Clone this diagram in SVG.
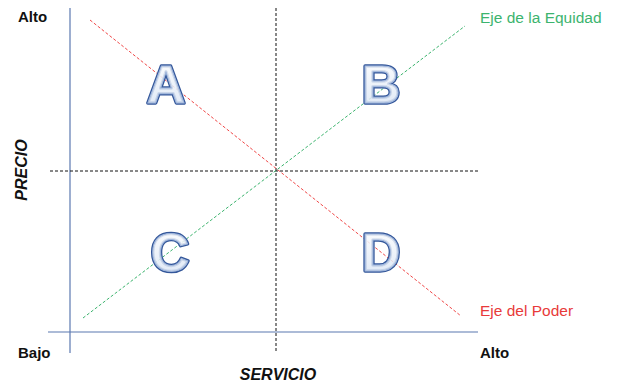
<svg xmlns="http://www.w3.org/2000/svg" width="619" height="385" viewBox="0 0 619 385">
<defs>
<linearGradient id="lg" x1="0" y1="0" x2="0" y2="1">
<stop offset="0" stop-color="#ffffff"/>
<stop offset="1" stop-color="#d6e2f3"/>
</linearGradient>
</defs>
<style>
.lbl{font-family:"Liberation Sans",Arial,sans-serif;font-weight:bold;font-size:15px;fill:#111}
.it{font-size:16px;font-style:italic;text-anchor:middle}
.ax{stroke:#5b78b0;stroke-width:1.2;fill:none}
.dash{stroke:#111;stroke-width:1;stroke-dasharray:3 2;fill:none}
.big{font-family:"Liberation Sans",Arial,sans-serif;font-weight:bold;font-size:54px;text-anchor:middle}
.out{fill:none;stroke:#34579a;stroke-width:3.5;stroke-linejoin:round}
.inn{fill:url(#lg);stroke:#9fb6dc;stroke-width:1;fill-opacity:0.85}
.axlbl{font-family:"Liberation Sans",Arial,sans-serif;font-size:15.5px}
</style>
<g id="connectors">
<line class="ax" x1="70" y1="8" x2="70" y2="353"/>
<line class="ax" x1="48" y1="332" x2="478" y2="332"/>
<line class="dash" x1="276" y1="8" x2="276" y2="352"/>
<line class="dash" x1="50" y1="171" x2="478" y2="171"/>
<line x1="90" y1="20" x2="461" y2="316" stroke="#f04848" stroke-width="1" stroke-dasharray="3 2"/>
<line x1="83" y1="318" x2="465" y2="26" stroke="#3cb46e" stroke-width="1" stroke-dasharray="3 2"/>
</g>
<g id="A"><text class="big out" x="166" y="103">A</text><text class="big inn" x="166" y="103">A</text></g>
<g id="B"><text class="big out" x="381" y="103">B</text><text class="big inn" x="381" y="103">B</text></g>
<g id="C"><text class="big out" x="170" y="271">C</text><text class="big inn" x="170" y="271">C</text></g>
<g id="D"><text class="big out" x="381" y="271">D</text><text class="big inn" x="381" y="271">D</text></g>
<g id="labels">
<text class="lbl" x="18" y="22">Alto</text>
<text class="lbl" x="18" y="358">Bajo</text>
<text class="lbl" x="480" y="358">Alto</text>
<text class="lbl it" x="278" y="380">SERVICIO</text>
<text class="lbl it" transform="translate(27,170) rotate(-90)">PRECIO</text>
<text class="axlbl" x="480" y="23" fill="#3cb46e">Eje de la Equidad</text>
<text class="axlbl" x="480" y="316" fill="#e83a3a">Eje del Poder</text>
</g>
</svg>
